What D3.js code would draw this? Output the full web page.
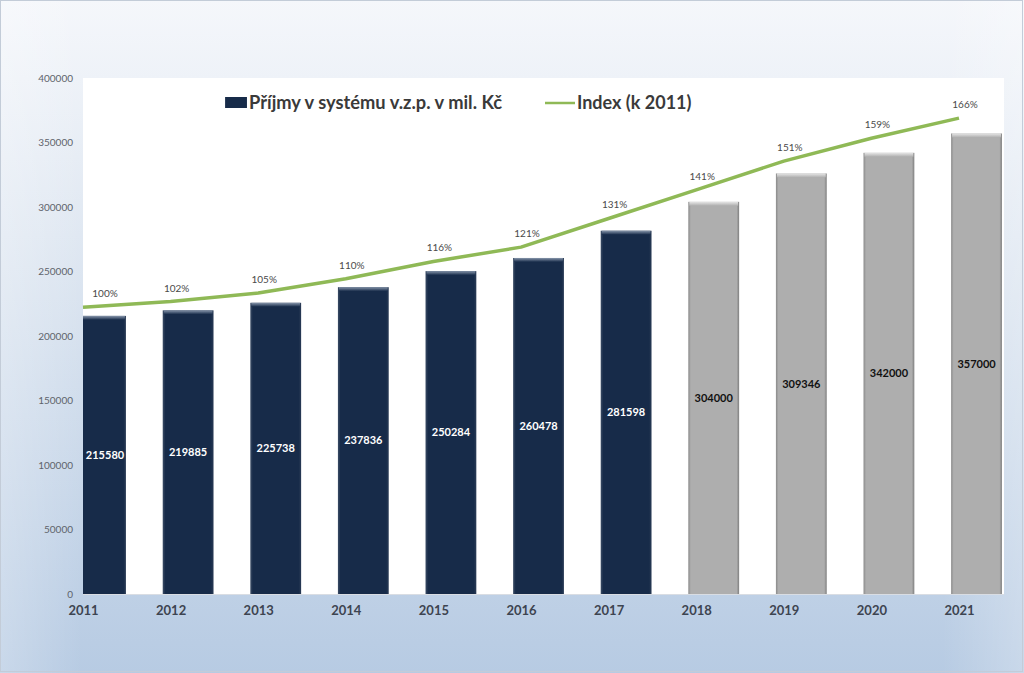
<!DOCTYPE html>
<html><head><meta charset="utf-8">
<script src="https://cdn.jsdelivr.net/npm/d3@7"></script>
<style>body{margin:0;background:#fff}svg{display:block}text{font-family:Lato,"Open Sans",sans-serif}</style>
</head><body>
<svg id="c" width="1024" height="673"></svg>
<script>
const years = ["2011","2012","2013","2014","2015","2016","2017","2018","2019","2020","2021"];
const incomeValues = [215580,219885,225738,237836,250284,260478,281598,304000,326000,342000,357000];
const incomeLabels = ["215580","219885","225738","237836","250284","260478","281598","304000","309346","342000","357000"];
const forecast = [false,false,false,false,false,false,false,true,true,true,true];
const indexValues = [1.00,1.02,1.05,1.10,1.16,1.21,1.31,1.41,1.51,1.59,1.66];
const indexLabels = ["100%","102%","105%","110%","116%","121%","131%","141%","151%","159%","166%"];
const yTicks = [0,50000,100000,150000,200000,250000,300000,350000,400000];
const legendBar = "Příjmy v systému v.z.p. v mil. Kč";
const legendLine = "Index (k 2011)";

const W=1024,H=673;
const P={l:83,r:1004,t:78,b:594};
const svg=d3.select("#c");
const defs=svg.append("defs");

// background gradient
const bg=defs.append("linearGradient").attr("id","bg").attr("x1",0).attr("y1",0).attr("x2",0).attr("y2",1);
bg.append("stop").attr("offset","0%").attr("stop-color","#f5f7fb");
bg.append("stop").attr("offset","35%").attr("stop-color","#e0e8f2");
bg.append("stop").attr("offset","100%").attr("stop-color","#b7cbe3");
const bgh=defs.append("linearGradient").attr("id","bgh").attr("x1",0).attr("y1",0).attr("x2",1).attr("y2",0);
bgh.append("stop").attr("offset","0%").attr("stop-color","#ffffff").attr("stop-opacity",0.25);
bgh.append("stop").attr("offset","8%").attr("stop-color","#ffffff").attr("stop-opacity",0);
bgh.append("stop").attr("offset","92%").attr("stop-color","#ffffff").attr("stop-opacity",0);
bgh.append("stop").attr("offset","100%").attr("stop-color","#ffffff").attr("stop-opacity",0.25);

svg.append("rect").attr("x",0).attr("y",0).attr("width",W).attr("height",H).attr("fill","url(#bg)");
svg.append("rect").attr("x",0).attr("y",0).attr("width",W).attr("height",H).attr("fill","url(#bgh)");
svg.append("rect").attr("x",0.5).attr("y",0.5).attr("width",W-2).attr("height",H-2).attr("fill","none").attr("stroke","#c3ccd8");

// plot area
svg.append("rect").attr("x",P.l).attr("y",P.t).attr("width",P.r-P.l).attr("height",P.b-P.t).attr("fill","#ffffff");
defs.append("clipPath").attr("id","plotclip").append("rect").attr("x",P.l).attr("y",P.t-30).attr("width",P.r-P.l).attr("height",P.b-P.t+30);

const x=d3.scalePoint().domain(years).range([P.l,959]);
const step=x.step();
const y=d3.scaleLinear().domain([0,400000]).range([P.b,P.t]);
const y2=d3.scaleLinear().domain([0,1.8]).range([P.b,P.t]);
const barOff=step*0.2, barW=step*0.58;

// bar gradients
function hgrad(id,edgeL,main,edgeR){
  const g=defs.append("linearGradient").attr("id",id).attr("x1",0).attr("y1",0).attr("x2",1).attr("y2",0);
  g.append("stop").attr("offset","0%").attr("stop-color",edgeL);
  g.append("stop").attr("offset","5%").attr("stop-color",main);
  g.append("stop").attr("offset","95%").attr("stop-color",main);
  g.append("stop").attr("offset","100%").attr("stop-color",edgeR);
}
hgrad("gNavy","#3c4d66","#172b49","#2a3b55");
hgrad("gGray","#8a8a8a","#aeaeae","#7e7e7e");
function vgrad(id,top,main){
  const g=defs.append("linearGradient").attr("id",id).attr("x1",0).attr("y1",0).attr("x2",0).attr("y2",1);
  g.append("stop").attr("offset","0%").attr("stop-color",top);
  g.append("stop").attr("offset","100%").attr("stop-color",main);
}
vgrad("tNavy","#8796ab","#172b49");
vgrad("tGray","#e6e6e6","#aeaeae");

const data=years.map((yr,i)=>({yr,v:incomeValues[i],lab:incomeLabels[i],f:forecast[i],idx:indexValues[i],il:indexLabels[i]}));

const bars=svg.append("g").attr("clip-path","url(#plotclip)");
const bg2=bars.selectAll("g.bar").data(data).join("g");
bg2.append("rect")
  .attr("x",d=>x(d.yr)+barOff-barW/2).attr("width",barW)
  .attr("y",d=>y(d.v)).attr("height",d=>P.b-y(d.v))
  .attr("fill",d=>d.f?"url(#gGray)":"url(#gNavy)");
bg2.append("rect")
  .attr("x",d=>x(d.yr)+barOff-barW/2+1).attr("width",barW-2)
  .attr("y",d=>y(d.v)).attr("height",4)
  .attr("fill",d=>d.f?"url(#tGray)":"url(#tNavy)");

// bar labels
svg.append("g").selectAll("text").data(data).join("text")
  .attr("x",d=>Math.max(x(d.yr)+barOff, P.l+22))
  .attr("y",d=>(y(d.v)+P.b)/2)
  .attr("dy","0.35em").attr("text-anchor","middle")
  .attr("font-size",11).attr("font-weight","bold")
  .attr("fill",d=>d.f?"#111111":"#ffffff")
  .text(d=>d.lab);

// line
const line=d3.line().x(d=>x(d.yr)).y(d=>y2(d.idx));
svg.append("path").datum(data).attr("d",line).attr("fill","none")
  .attr("stroke","#8fb956").attr("stroke-width",3.5).attr("stroke-linejoin","round");

svg.append("g").selectAll("text").data(data).join("text")
  .attr("x",d=>Math.max(x(d.yr)+6, P.l+22))
  .attr("y",d=>y2(d.idx)-10)
  .attr("text-anchor","middle").attr("font-size",10).attr("fill","#4a4a4a")
  .text(d=>d.il);

// y axis
const yAxis=d3.axisLeft(y).tickValues(yTicks).tickSize(0).tickPadding(10).tickFormat(d3.format("d"));
const ya=svg.append("g").attr("transform",`translate(${P.l},0)`).call(yAxis);
ya.select(".domain").remove();
ya.selectAll("text").attr("font-size",10).attr("fill","#5e636b").attr("font-family","Lato, sans-serif");

// x axis
const xAxis=d3.axisBottom(x).tickSize(0).tickPadding(12);
const xa=svg.append("g").attr("transform",`translate(0,${P.b})`).call(xAxis);
xa.select(".domain").attr("stroke","#d9dde3").attr("d",`M${P.l},0.5H${P.r}`);
xa.selectAll("text").attr("font-size",13).attr("font-weight","bold").attr("fill","#3d4450").attr("font-family","Lato, sans-serif");

// legend
const lg=svg.append("g");
lg.append("rect").attr("x",225).attr("y",97).attr("width",22).attr("height",11).attr("fill","url(#gNavy)");
lg.append("text").attr("x",249).attr("y",109).attr("font-size",18.3).attr("font-weight","bold").attr("fill","#3a3a3a").text(legendBar);
lg.append("line").attr("x1",545).attr("x2",575).attr("y1",103).attr("y2",103).attr("stroke","#8fb956").attr("stroke-width",2.5);
lg.append("text").attr("x",577).attr("y",109).attr("font-size",18).attr("font-weight","bold").attr("fill","#3a3a3a").text(legendLine);
</script>
</body></html>
